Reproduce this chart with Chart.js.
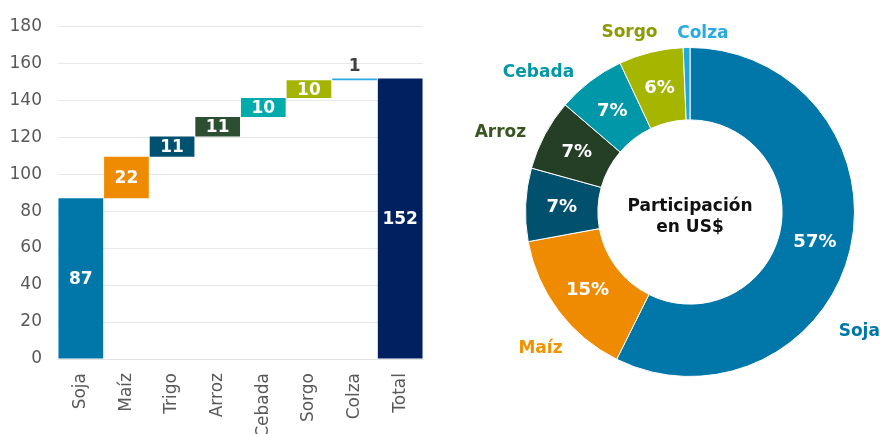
<!DOCTYPE html>
<html lang="es">
<head>
    <meta charset="UTF-8">
    <title>Exportaciones por cultivo</title>
    <script src="https://cdn.jsdelivr.net/npm/chart.js"></script>
    <style>
        body {
            margin: 0;
            background: #fff;
            overflow: hidden;
            font-family: "DejaVu Sans", Verdana, sans-serif;
        }
        .box {
            position: absolute;
            top: 0;
            height: 434px;
        }
        #left { left: 0; width: 440px; }
        #right { left: 440px; width: 440px; }
    </style>
</head>
<body>

    <div class="box" id="left"><canvas id="waterfall"></canvas></div>
    <div class="box" id="right"><canvas id="donut"></canvas></div>

    <script type='text/javascript'>
    // Data
    const crops = ['Soja', 'Maíz', 'Trigo', 'Arroz', 'Cebada', 'Sorgo', 'Colza'];
    const values = [87.0, 22.4, 10.9, 10.6, 10.2, 9.6, 1.0];
    const totalLabel = 'Total';
    const yTicks = [0, 20, 40, 60, 80, 100, 120, 140, 160, 180];
    const centerText = ['Participación', 'en US$'];

    // colours
    const barColors = ['#0077a8', '#ee8b00', '#005070', '#2c4f32', '#00abab', '#a4b400', '#29abe2', '#002060'];
    const sliceColors = ['#0077a8', '#ee8b00', '#00506e', '#253f27', '#0098a8', '#a5b500', '#1fa8e0'];
    const nameColors = ['#0077a8', '#f39200', null, '#375623', '#0097a7', '#8a9a00', '#29abe2'];
    // where the crop names sit round the ring: degrees from the slice middle, and distance as part of the radius
    const namePlacement = [[22, 1.26], [-5.4, 1.23], null, [-5.3, 1.25], [-10.2, 1.25], [-4.9, 1.15], [5.3, 1.09]];

    const total = values.reduce((a, b) => a + b, 0);

    // floating bars for the waterfall
    const steps = [];
    let run = 0;
    values.forEach(v => {
        steps.push([run, run + v]);
        run += v;
    });
    steps.push([0, total]);
    const stepValues = values.concat([total]);

    Chart.defaults.font.family = '"DejaVu Sans", Verdana, sans-serif';
    Chart.defaults.animation = false;

    // labels on the waterfall bars
    const barLabels = {
        id: 'barLabels',
        afterDatasetsDraw(chart) {
            const ctx = chart.ctx;
            const meta = chart.getDatasetMeta(0);
            ctx.save();
            ctx.font = 'bold 17px "DejaVu Sans"';
            ctx.textAlign = 'center';
            ctx.textBaseline = 'middle';
            meta.data.forEach((bar, i) => {
                const txt = String(Math.round(stepValues[i]));
                const h = Math.abs(bar.base - bar.y);
                if (h < 16) {
                    ctx.fillStyle = '#404040';
                    ctx.fillText(txt, bar.x, Math.min(bar.y, bar.base) - 12);
                } else {
                    ctx.fillStyle = '#fff';
                    ctx.fillText(txt, bar.x, (bar.y + bar.base) / 2 + 1);
                }
            });
            ctx.restore();
        }
    };

    new Chart(document.getElementById('waterfall'), {
        type: 'bar',
        data: {
            labels: crops.concat([totalLabel]),
            datasets: [{
                data: steps,
                backgroundColor: barColors,
                barPercentage: 1,
                categoryPercentage: 0.98,
                borderSkipped: false
            }]
        },
        options: {
            responsive: true,
            maintainAspectRatio: false,
            layout: { padding: { top: 24, right: 17, left: 0, bottom: 0 } },
            plugins: { legend: { display: false }, tooltip: { enabled: false } },
            scales: {
                x: {
                    grid: { display: false },
                    border: { display: true, color: '#e3e3e3' },
                    ticks: {
                        color: '#595959',
                        font: { size: 17 },
                        minRotation: 90,
                        maxRotation: 90,
                        autoSkip: false,
                        padding: 6
                    },
                    afterFit: s => { s.height = 75; }
                },
                y: {
                    min: 0,
                    max: 180,
                    afterBuildTicks: s => { s.ticks = yTicks.map(v => ({ value: v })); },
                    grid: { color: '#e8e8e8', drawTicks: false },
                    border: { display: false },
                    ticks: { color: '#595959', font: { size: 17 }, padding: 16 },
                    afterFit: s => { s.width = 58; }
                }
            }
        },
        plugins: [barLabels]
    });

    // labels on and round the doughnut
    const ringLabels = {
        id: 'ringLabels',
        afterDatasetsDraw(chart) {
            const ctx = chart.ctx;
            const arcs = chart.getDatasetMeta(0).data;
            ctx.save();
            ctx.textAlign = 'center';
            ctx.textBaseline = 'middle';
            ctx.font = 'bold 18px "DejaVu Sans"';
            arcs.forEach((arc, i) => {
                const pct = Math.round(values[i] / total * 100);
                if (pct < 2) return;
                const p = arc.tooltipPosition();
                ctx.fillStyle = '#fff';
                ctx.fillText(pct + '%', p.x, p.y + 1);
            });
            ctx.font = 'bold 17px "DejaVu Sans"';
            arcs.forEach((arc, i) => {
                const place = namePlacement[i];
                if (!place) return;
                const mid = (arc.startAngle + arc.endAngle) / 2 + place[0] * Math.PI / 180;
                const r = arc.outerRadius * place[1];
                ctx.fillStyle = nameColors[i];
                ctx.fillText(crops[i], arc.x + r * Math.cos(mid), arc.y + r * Math.sin(mid));
            });
            const c = arcs[0];
            ctx.fillStyle = '#111';
            ctx.fillText(centerText[0], c.x, c.y - 5);
            ctx.fillText(centerText[1], c.x, c.y + 16);
            ctx.restore();
        }
    };

    new Chart(document.getElementById('donut'), {
        type: 'doughnut',
        data: {
            labels: crops,
            datasets: [{
                data: values,
                backgroundColor: sliceColors,
                borderColor: '#fff',
                borderWidth: 1,
                hoverOffset: 0
            }]
        },
        options: {
            responsive: true,
            maintainAspectRatio: false,
            cutout: '56%',
            layout: { padding: { left: 85, right: 25, top: 47, bottom: 57 } },
            plugins: { legend: { display: false }, tooltip: { enabled: false } }
        },
        plugins: [ringLabels]
    });
    </script>

</body></html>
